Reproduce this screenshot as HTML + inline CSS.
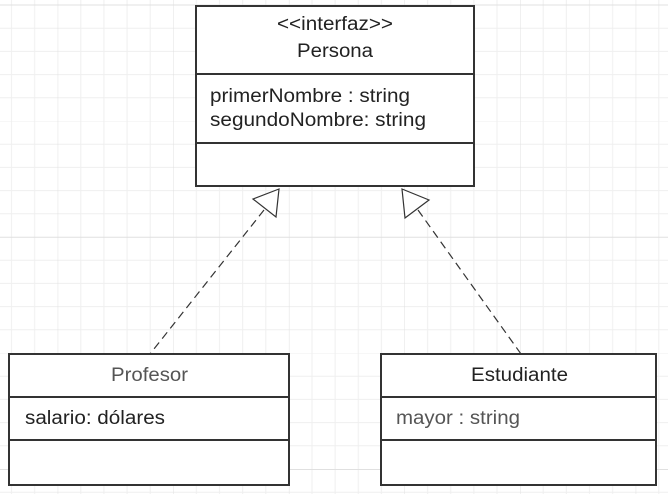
<!DOCTYPE html>
<html><head><meta charset="utf-8"><style>
html,body{margin:0;padding:0;background:#fff;}
svg{display:block;}
text{font-family:"Liberation Sans",sans-serif;font-size:19px;fill:#222;}
</style></head><body>
<svg width="668" height="494" viewBox="0 0 668 494" xmlns="http://www.w3.org/2000/svg">
<defs>
<pattern id="g" patternUnits="userSpaceOnUse" x="57.7" y="5" width="115.6" height="116">
<path d="M0 0V116M23.1 0V116M46.2 0V116M69.4 0V116M92.5 0V116" stroke="#efefef" stroke-width="1"/>
<path d="M0 0H116M0 23.2H116M0 46.4H116M0 69.6H116M0 92.8H116" stroke="#efefef" stroke-width="1"/>
<path d="M0 0V116" stroke="#e0e0e0" stroke-width="1"/>
</pattern>
</defs>
<rect width="668" height="494" fill="url(#g)"/>
<path d="M0 5H668M0 237.3H668M0 469.5H668" stroke="#e0e0e0"/>
<g fill="#fff" stroke="#333" stroke-width="2">
<rect x="196" y="6" width="278" height="180"/>
<line x1="196" y1="74" x2="474" y2="74"/>
<line x1="196" y1="143" x2="474" y2="143"/>
<rect x="9" y="354" width="280" height="131"/>
<line x1="9" y1="397" x2="289" y2="397"/>
<line x1="9" y1="440" x2="289" y2="440"/>
<rect x="381" y="354" width="275" height="131"/>
<line x1="381" y1="397" x2="656" y2="397"/>
<line x1="381" y1="440" x2="656" y2="440"/>
</g>
<g stroke="#333" stroke-width="1.2" fill="none">
<line x1="264" y1="210" x2="150" y2="354" stroke-dasharray="8,5"/>
<line x1="418" y1="210" x2="521" y2="354" stroke-dasharray="8,5"/>
<polygon points="279,189 253,199 276,217" fill="#fff"/>
<polygon points="402,189 429,200 405,218" fill="#fff"/>
</g>
<text x="277" y="30" textLength="116" lengthAdjust="spacingAndGlyphs">&lt;&lt;interfaz&gt;&gt;</text>
<text x="297" y="57" textLength="76" lengthAdjust="spacingAndGlyphs">Persona</text>
<text x="210" y="102" textLength="200" lengthAdjust="spacingAndGlyphs">primerNombre : string</text>
<text x="210" y="126" textLength="216" lengthAdjust="spacingAndGlyphs">segundoNombre: string</text>
<text x="111" y="381" textLength="77" lengthAdjust="spacingAndGlyphs" style="fill:#555">Profesor</text>
<text x="25" y="424" textLength="140" lengthAdjust="spacingAndGlyphs">salario: dólares</text>
<text x="471" y="381" textLength="97" lengthAdjust="spacingAndGlyphs">Estudiante</text>
<text x="396" y="424" textLength="124" lengthAdjust="spacingAndGlyphs" style="fill:#555">mayor : string</text>
</svg>
</body></html>
